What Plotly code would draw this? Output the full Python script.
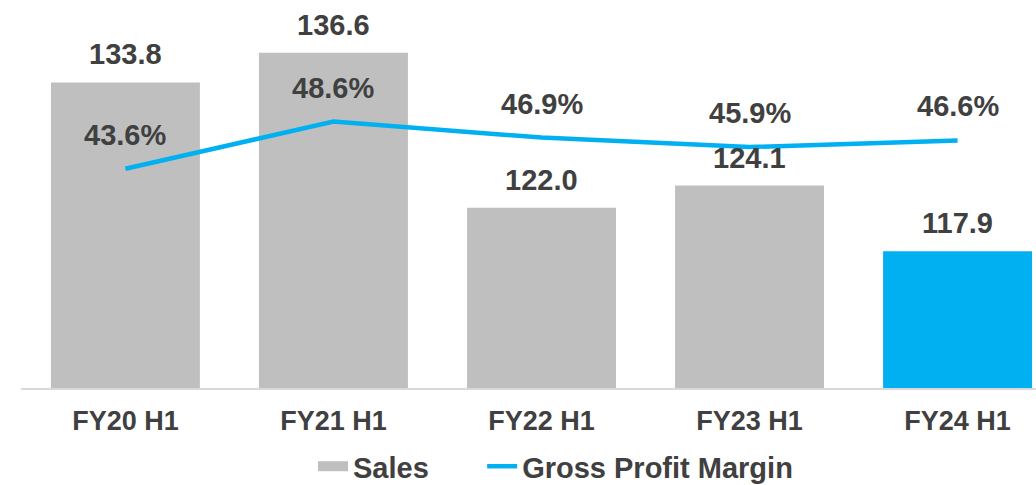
import plotly.graph_objects as go

categories = ["FY20 H1", "FY21 H1", "FY22 H1", "FY23 H1", "FY24 H1"]
sales = [133.8, 136.6, 122.0, 124.1, 117.9]
gpm = [43.6, 48.6, 46.9, 45.9, 46.6]
bar_colors = ["#BFBFBF", "#BFBFBF", "#BFBFBF", "#BFBFBF", "#00B0F0"]

TXT = "#404040"
FONT = "Liberation Sans, Arial, sans-serif"
NB = "\u00a0"

fig = go.Figure()
fig.add_trace(go.Bar(
    x=categories, y=sales, name="Sales",
    marker=dict(color=bar_colors, line=dict(width=0)),
    width=0.716, showlegend=False,
))
# legend entry for sales (wide gray swatch)
fig.add_trace(go.Scatter(
    x=[None], y=[None], name="Sales" + NB * 6, mode="lines",
    line=dict(color="#BFBFBF", width=11), showlegend=True,
))
fig.add_trace(go.Scatter(
    x=categories, y=gpm, name="Gross Profit Margin", yaxis="y2",
    mode="lines", line=dict(color="#00B0F0", width=4.5),
))

annotations = []
for c, v in zip(categories, sales):
    annotations.append(dict(
        x=c, y=v, xref="x", yref="y", text=f"{v:.1f}", showarrow=False,
        yanchor="middle", yshift=28,
        font=dict(family=FONT, size=29, color=TXT, weight="bold"),
    ))
for c, v in zip(categories, gpm):
    annotations.append(dict(
        x=c, y=v, xref="x", yref="y2", text=f"{v:.1f}%", showarrow=False,
        yanchor="middle", yshift=34,
        font=dict(family=FONT, size=29, color=TXT, weight="bold"),
    ))

fig.update_layout(
    width=1036, height=485,
    margin=dict(l=21, r=0, t=0, b=96.5, autoexpand=False),
    paper_bgcolor="white", plot_bgcolor="white",
    font=dict(family=FONT, color=TXT),
    barmode="overlay",
    xaxis=dict(
        type="category", range=[-0.502, 4.377],
        showline=True, linecolor="#D9D9D9", linewidth=2,
        showgrid=False, zeroline=False, ticks="",
        tickfont=dict(family=FONT, size=27, color=TXT, weight="bold"),
        ticklabelstandoff=8,
    ),
    yaxis=dict(range=[105.04, 141.56], visible=False, showgrid=False, zeroline=False),
    yaxis2=dict(range=[20.42, 61.45], overlaying="y", visible=False,
                showgrid=False, zeroline=False),
    legend=dict(
        orientation="h", x=0.2877, xanchor="left", y=-0.202, yanchor="middle",
        font=dict(family=FONT, size=29, color=TXT, weight="bold"),
        bgcolor="rgba(0,0,0,0)",
    ),
    annotations=annotations,
)

fig.write_html(
    "out.html",
    config={"displayModeBar": False},
    post_script="document.body.style.margin='0';document.body.style.overflow='hidden';",
)
